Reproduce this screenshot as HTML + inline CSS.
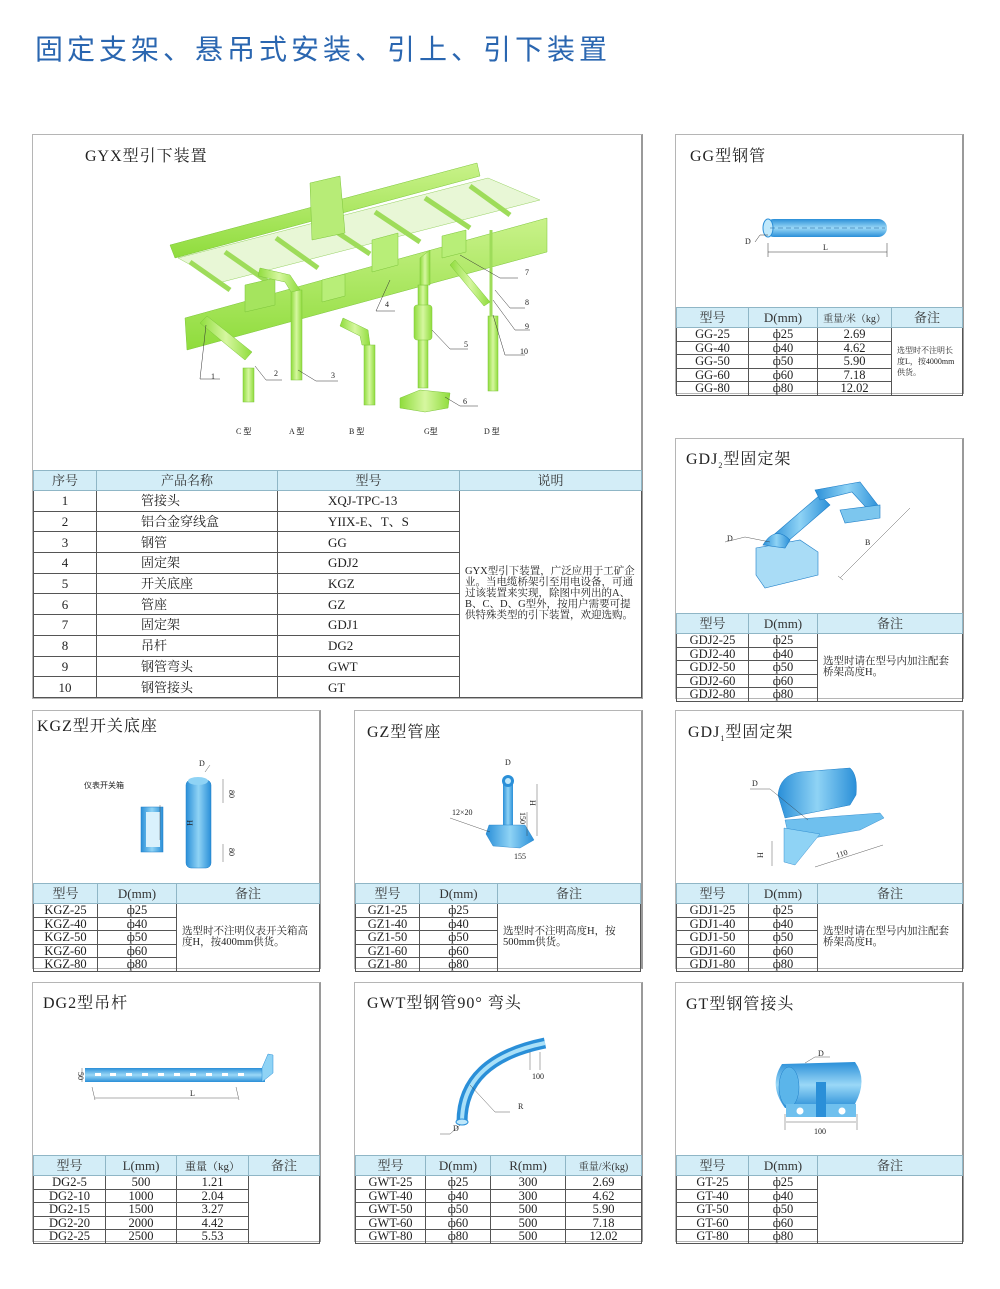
<!DOCTYPE html>
<html><head><meta charset="utf-8">
<style>
body{margin:0;width:1000px;height:1289px;background:#fff;position:relative;overflow:hidden;font-family:"Liberation Serif","Noto Serif CJK SC",serif;color:#222}
.ttl{position:absolute;left:35px;top:28px;font-family:"Liberation Sans","Noto Sans CJK SC",sans-serif;font-size:28px;letter-spacing:4px;color:#2a66b0}
.pan{position:absolute;border:1px solid #b5b5b5;border-right:2px solid #9a9a9a;box-sizing:border-box;background:#fff}
.pt{position:absolute;font-size:16px;color:#222;letter-spacing:1px}
table{position:absolute;border-collapse:collapse;table-layout:fixed;font-size:12.5px;line-height:1}
td{border:1px solid #555;text-align:center;padding:0;overflow:hidden;white-space:nowrap}
tr.h td{background:#d3edf7;border-color:#8fb6c6;font-size:13px;color:#333}
td.rm{text-align:left;white-space:normal;font-size:10.5px;line-height:1.05;padding:0 5px;vertical-align:middle}
#main tr:not(.h) td:nth-child(2){text-align:left;padding-left:44px}
#main tr:not(.h) td:nth-child(3){text-align:left;padding-left:50px}
svg{position:absolute;left:0;top:0}
.lb{font-family:"Liberation Serif",serif;font-size:8px;fill:#222}
</style></head><body>
<div class="ttl">固定支架、悬吊式安装、引上、引下装置</div>

<div class="pan" style="left:32px;top:134px;width:611px;height:565px"></div>
<div class="pt" style="left:85px;top:143px">GYX型引下装置</div>
<div class="pan" style="left:675px;top:134px;width:289px;height:260px"></div>
<div class="pt" style="left:690px;top:143px">GG型钢管</div>
<div class="pan" style="left:675px;top:438px;width:289px;height:261px"></div>
<div class="pt" style="left:686px;top:446px">GDJ<sub style="font-size:8px">2</sub>型固定架</div>
<div class="pan" style="left:32px;top:710px;width:289px;height:259px"></div>
<div class="pt" style="left:37px;top:713px">KGZ型开关底座</div>
<div class="pan" style="left:354px;top:710px;width:289px;height:259px"></div>
<div class="pt" style="left:367px;top:719px">GZ型管座</div>
<div class="pan" style="left:675px;top:710px;width:289px;height:259px"></div>
<div class="pt" style="left:688px;top:719px">GDJ<sub style="font-size:8px">1</sub>型固定架</div>
<div class="pan" style="left:32px;top:982px;width:289px;height:260px"></div>
<div class="pt" style="left:43px;top:990px">DG2型吊杆</div>
<div class="pan" style="left:354px;top:982px;width:289px;height:260px"></div>
<div class="pt" style="left:367px;top:990px">GWT型钢管90° 弯头</div>
<div class="pan" style="left:675px;top:982px;width:289px;height:260px"></div>
<div class="pt" style="left:686px;top:991px">GT型钢管接头</div>

<svg width="1000" height="1289" viewBox="0 0 1000 1289">
<defs>
<linearGradient id="g" x1="0" y1="0" x2="0" y2="1"><stop offset="0" stop-color="#c9f28a"/><stop offset="1" stop-color="#8fdc3c"/></linearGradient>
<linearGradient id="gv" x1="0" y1="0" x2="1" y2="0"><stop offset="0" stop-color="#8fdc3c"/><stop offset=".5" stop-color="#d6f7a0"/><stop offset="1" stop-color="#8fdc3c"/></linearGradient>
<linearGradient id="b" x1="0" y1="0" x2="1" y2="0"><stop offset="0" stop-color="#2a8fd8"/><stop offset=".5" stop-color="#8fd3f5"/><stop offset="1" stop-color="#2a8fd8"/></linearGradient>
<linearGradient id="bv" x1="0" y1="0" x2="0" y2="1"><stop offset="0" stop-color="#2a8fd8"/><stop offset=".5" stop-color="#9ad8f7"/><stop offset="1" stop-color="#2a8fd8"/></linearGradient>
</defs>
<g stroke="#7cc53a" stroke-width=".5">
<polygon points="170,245 477,163 480,176 175,258" fill="url(#g)"/>
<polygon points="178,258 488,178 540,200 222,282" fill="#e3f6cc" opacity=".8"/>
<g stroke="#9edc5a" stroke-width="5" fill="none">
<line x1="190" y1="262" x2="230" y2="290"/><line x1="225" y1="252" x2="268" y2="282"/><line x1="276" y1="238" x2="318" y2="268"/><line x1="326" y1="225" x2="370" y2="254"/><line x1="375" y1="212" x2="420" y2="242"/><line x1="425" y1="198" x2="470" y2="228"/><line x1="470" y1="186" x2="510" y2="215"/>
</g>
<polygon points="185,318 547,218 547,252 187,350" fill="url(#g)"/>
<polygon points="310,183 340,176 345,233 312,240" fill="#b7ec77"/>
<polygon points="245,285 275,278 275,305 245,312" fill="#a5e45e"/>
<polygon points="322,280 345,274 345,296 322,302" fill="#b8ee78"/>
<polygon points="372,240 398,233 398,265 372,272" fill="#b8ee78"/>
<polygon points="442,236 466,230 466,252 442,258" fill="#b8ee78"/>
</g>
<g fill="url(#gv)" stroke="#7cc53a" stroke-width=".5">
<rect x="291" y="290" width="11" height="90"/>
<rect x="364" y="345" width="11" height="60"/>
<rect x="243" y="368" width="11" height="34"/>
<rect x="418" y="285" width="10" height="103"/>
<rect x="414" y="305" width="18" height="35" rx="3"/>
<rect x="488" y="316" width="10" height="75"/>
<line x1="491" y1="230" x2="491" y2="316" stroke="#9edc5a" stroke-width="3"/>
<polygon points="400,398 420,390 450,393 448,408 425,412 400,408"/>
<path d="M200,323 L245,360 L252,352 L207,316Z"/>
<path d="M260,268 L290,275 L300,290 L291,292 L285,282 L258,276Z"/>
<path d="M343,318 L368,330 L370,345 L362,345 L360,336 L340,326Z"/>
<path d="M430,250 L430,285 L420,285 L420,258Z"/>
<path d="M455,260 L490,302 L484,306 L450,265Z"/>
</g>
<g stroke="#333" stroke-width=".5" fill="none">
<polyline points="206,325 200,379 220,379"/><polyline points="255,366 266,380 282,380"/><polyline points="298,370 316,381 338,381"/><polyline points="390,280 376,311 395,311"/><polyline points="432,330 450,349 468,349"/><polyline points="445,397 460,406 478,406"/><polyline points="460,255 500,278 518,278"/><polyline points="495,290 510,308 525,308"/><polyline points="493,300 515,330 530,330"/><polyline points="493,315 505,355 525,355"/>
</g>
<g font-size="8" font-family="Liberation Serif" fill="#222">
<text x="211" y="379">1</text><text x="274" y="376">2</text><text x="331" y="378">3</text><text x="385" y="307">4</text><text x="464" y="347">5</text><text x="463" y="404">6</text><text x="525" y="275">7</text><text x="525" y="305">8</text><text x="525" y="329">9</text><text x="520" y="354">10</text>
<text x="236" y="434">C 型</text><text x="289" y="434">A 型</text><text x="349" y="434">B 型</text><text x="424" y="434">G型</text><text x="484" y="434">D 型</text>
</g>

<rect x="765" y="219" width="122" height="18" rx="9" fill="url(#bv)"/>
<ellipse cx="768" cy="228" rx="5" ry="9" fill="#bfe8fb" stroke="#2a8fd8"/>
<line x1="770" y1="228" x2="885" y2="228" stroke="#1c5e9a" stroke-width=".6" stroke-dasharray="5,3"/>
<g stroke="#333" stroke-width=".5" fill="none"><polyline points="755,242 760,235 768,235"/><line x1="768" y1="243" x2="768" y2="257"/><line x1="887" y1="243" x2="887" y2="257"/><line x1="768" y1="252" x2="887" y2="252"/></g>
<text class="lb" x="745" y="244">D</text><text class="lb" x="823" y="250">L</text>

<g fill="url(#b)" stroke="#1f7fc8" stroke-width=".6">
<polygon points="770,538 820,495 830,505 780,548"/>
<polygon points="815,490 860,482 880,508 872,514 852,492 820,500"/>
<polygon points="840,510 880,505 880,518 845,523" fill="#7cc6ee"/>
<polygon points="756,548 800,540 818,552 818,575 765,588 756,575" fill="#a9dcf6"/>
<path d="M763,545 Q775,525 790,540 L785,548Z"/>
</g>
<g stroke="#333" stroke-width=".4" fill="none"><polyline points="725,542 745,537 770,542"/><line x1="840" y1="578" x2="910" y2="508"/><line x1="838" y1="576" x2="843" y2="580"/></g>
<text class="lb" x="727" y="541">D</text><text class="lb" x="865" y="545">B</text>

<rect x="141" y="807" width="22" height="45" fill="url(#b)" stroke="#1f7fc8" stroke-width=".5"/>
<rect x="146" y="812" width="14" height="35" fill="#d9f1fc"/>
<rect x="186" y="780" width="25" height="88" rx="5" fill="url(#b)" stroke="#1f7fc8" stroke-width=".5"/>
<ellipse cx="198" cy="781" rx="10" ry="4" fill="#8fd3f5"/>
<g stroke="#333" stroke-width=".4" fill="none"><line x1="223" y1="779" x2="223" y2="803"/><line x1="223" y1="844" x2="223" y2="862"/><line x1="160" y1="805" x2="160" y2="840"/><line x1="205" y1="772" x2="210" y2="765"/></g>
<text class="lb" x="84" y="788" style="font-family:'Noto Sans CJK SC';font-size:8px">仪表开关箱</text>
<text class="lb" x="199" y="766">D</text>
<text class="lb" transform="translate(229,790) rotate(90)">80</text>
<text class="lb" transform="translate(229,848) rotate(90)">80</text>
<text class="lb" transform="translate(187,820) rotate(90)">H</text>

<rect x="503" y="781" width="10" height="45" fill="url(#b)"/>
<circle cx="508" cy="781" r="6" fill="#2a8fd8"/><circle cx="508" cy="781" r="3" fill="#bfe8fb"/>
<polygon points="489,825 525,825 534,840 520,848 493,846 486,834" fill="url(#b)" stroke="#1f7fc8" stroke-width=".4"/>
<g stroke="#333" stroke-width=".4" fill="none"><line x1="537" y1="784" x2="537" y2="836"/><line x1="527" y1="812" x2="527" y2="836"/><line x1="450" y1="818" x2="490" y2="832"/></g>
<text class="lb" x="505" y="765">D</text><text class="lb" x="452" y="815">12×20</text><text class="lb" x="514" y="859">155</text>
<text class="lb" transform="translate(530,800) rotate(90)">H</text><text class="lb" transform="translate(520,812) rotate(90)">150</text>

<path d="M778,795 Q780,775 800,772 L850,768 Q858,775 856,795 L850,805 L785,818Z" fill="url(#b)" stroke="#1f7fc8" stroke-width=".5"/>
<polygon points="785,820 880,813 884,818 860,830 790,842" fill="#6fc0ee" stroke="#1f7fc8" stroke-width=".4"/>
<polygon points="784,828 820,834 795,865 784,862" fill="#8fd3f5" stroke="#1f7fc8" stroke-width=".4"/>
<g stroke="#333" stroke-width=".4" fill="none"><polyline points="750,789 770,789 808,820"/><line x1="772" y1="841" x2="772" y2="866"/><line x1="815" y1="867" x2="883" y2="845"/></g>
<text class="lb" x="752" y="786">D</text><text class="lb" transform="translate(763,858) rotate(-90)">H</text><text class="lb" transform="translate(837,858) rotate(-18)">110</text>

<polygon points="85,1068 265,1068 265,1082 85,1082" fill="url(#bv)"/>
<polygon points="262,1082 273,1073 273,1055 268,1054 262,1068" fill="#8fd3f5" stroke="#2a8fd8" stroke-width=".5"/>
<g fill="#fff"><rect x="95" y="1073" width="6" height="3"/><rect x="110" y="1073" width="6" height="3"/><rect x="126" y="1073" width="6" height="3"/><rect x="142" y="1073" width="6" height="3"/><rect x="158" y="1073" width="6" height="3"/><rect x="174" y="1073" width="6" height="3"/><rect x="190" y="1073" width="6" height="3"/><rect x="206" y="1073" width="6" height="3"/><rect x="222" y="1073" width="6" height="3"/><rect x="238" y="1073" width="6" height="3"/></g>
<g stroke="#333" stroke-width=".4" fill="none"><line x1="95" y1="1098" x2="238" y2="1098"/><line x1="92" y1="1087" x2="95" y2="1100"/><line x1="236" y1="1087" x2="239" y2="1100"/><line x1="82" y1="1068" x2="82" y2="1082"/></g>
<text class="lb" x="190" y="1096">L</text><text class="lb" transform="translate(78,1072) rotate(90)">50</text>

<path d="M462,1122 Q462,1060 545,1043" stroke="#2a8fd8" stroke-width="11" fill="none"/>
<path d="M462,1122 Q462,1060 545,1043" stroke="#a9e0f8" stroke-width="4" fill="none"/>
<ellipse cx="462" cy="1122" rx="6" ry="3" fill="#bfe8fb" stroke="#2a8fd8"/>
<g stroke="#333" stroke-width=".4" fill="none"><polyline points="470,1085 495,1112 510,1112"/><polyline points="460,1125 450,1134 440,1134"/><line x1="530" y1="1052" x2="530" y2="1070"/><line x1="540" y1="1052" x2="540" y2="1070"/></g>
<text class="lb" x="532" y="1079">100</text><text class="lb" x="518" y="1109">R</text><text class="lb" x="453" y="1131">D</text>

<path d="M782,1064 L855,1062 Q868,1080 855,1104 L785,1108 Q768,1085 782,1064Z" fill="url(#bv)"/>
<ellipse cx="789" cy="1087" rx="10" ry="20" fill="#5bb5ea" stroke="#1f7fc8" stroke-width=".5"/>
<rect x="786" y="1104" width="30" height="13" fill="#6fc0ee"/><rect x="826" y="1104" width="30" height="13" fill="#6fc0ee"/>
<circle cx="800" cy="1111" r="3.5" fill="#fff"/><circle cx="842" cy="1111" r="3.5" fill="#fff"/>
<rect x="816" y="1082" width="10" height="35" fill="#2a8fd8"/>
<g stroke="#333" stroke-width=".4" fill="none"><polyline points="805,1063 815,1057 830,1057"/><line x1="786" y1="1122" x2="856" y2="1122"/><line x1="785" y1="1114" x2="785" y2="1130"/><line x1="857" y1="1114" x2="857" y2="1130"/></g>
<text class="lb" x="818" y="1056">D</text><text class="lb" x="814" y="1134">100</text>
</svg>

<div id="T"></div>
<script>
function tbl(x,y,cols,hh,rh,head,rows,rmCol,rmText,fs,id){
 var h='<table '+(id?'id="'+id+'" ':'')+'style="left:'+x+'px;top:'+y+'px;width:'+cols.reduce(function(a,b){return a+b},0)+'px'+(fs?';font-size:'+fs+'px':'')+'"><colgroup>';
 cols.forEach(function(c){h+='<col style="width:'+c+'px">'});
 h+='</colgroup><tr class="h" style="height:'+hh+'px">';
 head.forEach(function(c){h+='<td>'+c+'</td>'});h+='</tr>';
 rows.forEach(function(r,i){h+='<tr style="height:'+rh+'px">';
  r.forEach(function(c){h+='<td>'+c+'</td>'});
  if(rmCol!=null&&i==0)h+='<td class="rm" rowspan="'+rows.length+'">'+rmText+'</td>';
  h+='</tr>';});
 return h+'</table>';
}
var s='';
var P='ф';
function sz(p){return [25,40,50,60,80].map(function(n){return [p+'-'+n,P+n]})}
s+=tbl(33,470,[63,181,182,182],20,20.7,['序号','产品名称','型号','说明'],
 [[1,'管接头','XQJ-TPC-13'],[2,'铝合金穿线盒','YIIX-E、T、S'],[3,'钢管','GG'],[4,'固定架','GDJ2'],[5,'开关底座','KGZ'],[6,'管座','GZ'],[7,'固定架','GDJ1'],[8,'吊杆','DG2'],[9,'钢管弯头','GWT'],[10,'钢管接头','GT']],
 3,'GYX型引下装置，广泛应用于工矿企业。当电缆桥架引至用电设备，可通过该装置来实现，除图中列出的A、B、C、D、G型外，按用户需要可提供特殊类型的引下装置，欢迎选购。',13,'main');
var gg=[['GG-25',P+'25','2.69'],['GG-40',P+'40','4.62'],['GG-50',P+'50','5.90'],['GG-60',P+'60','7.18'],['GG-80',P+'80','12.02']];
s+=tbl(676,307,[72,69,74,71],20,12.8,['型号','D(mm)','<span style="font-size:10px">重量/米（kg）</span>','备注'],gg,3,'<span style="font-size:8px">选型时不注明长度L，按4000mm供货。</span>');
s+=tbl(676,613,[72,69,145],20,12.8,['型号','D(mm)','备注'],sz('GDJ2'),2,'选型时请在型号内加注配套桥架高度H。');
s+=tbl(33,883,[64,79,143],20,12.8,['型号','D(mm)','备注'],sz('KGZ'),2,'选型时不注明仪表开关箱高度H，按400mm供货。');
s+=tbl(355,883,[64,78,143],20,12.8,['型号','D(mm)','备注'],sz('GZ1'),2,'选型时不注明高度H，按500mm供货。');
s+=tbl(676,883,[72,69,145],20,12.8,['型号','D(mm)','备注'],sz('GDJ1'),2,'选型时请在型号内加注配套桥架高度H。');
s+=tbl(33,1155,[72,71,72,71],20,12.8,['型号','L(mm)','<span style="font-size:11px">重量（kg）</span>','备注'],
 [['DG2-5','500','1.21'],['DG2-10','1000','2.04'],['DG2-15','1500','3.27'],['DG2-20','2000','4.42'],['DG2-25','2500','5.53']],3,'');
s+=tbl(355,1155,[70,65,75,76],20,12.8,['型号','D(mm)','R(mm)','<span style="font-size:10px">重量/米(kg)</span>'],
 [['GWT-25',P+'25','300','2.69'],['GWT-40',P+'40','300','4.62'],['GWT-50',P+'50','500','5.90'],['GWT-60',P+'60','500','7.18'],['GWT-80',P+'80','500','12.02']]);
s+=tbl(676,1155,[72,69,145],20,12.8,['型号','D(mm)','备注'],sz('GT'),2,'');
document.getElementById('T').innerHTML=s;
</script>
</body></html>
